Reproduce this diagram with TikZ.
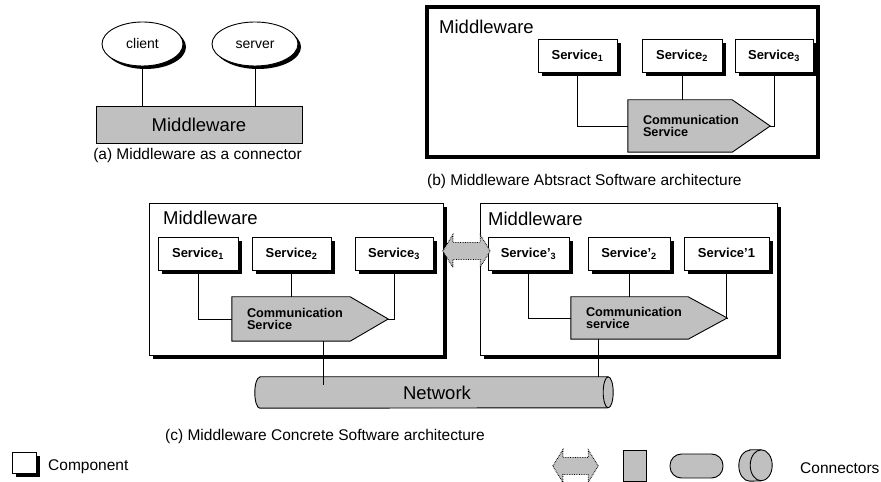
\documentclass[tikz,border=0pt]{standalone}
\usepackage{fontspec}
\setmainfont{Liberation Sans}
\usetikzlibrary{shapes.geometric,shadows,calc}
\definecolor{fg}{RGB}{192,192,192}
\newcommand\dblarrowshape[1]{%
  \draw[dotline] (#1.west) -- ($(#1.north west)+(10,0)$) -- ($(#1.west)+(10,8.5)$)
    -- ($(#1.east)+(-10,8.5)$) -- ($(#1.north east)+(-10,0)$) -- (#1.east)
    -- ($(#1.south east)+(-10,0)$) -- ($(#1.east)+(-10,-8.5)$) -- ($(#1.west)+(10,-8.5)$)
    -- ($(#1.south west)+(10,0)$) -- cycle;}
% #1 node name, #2 x radius of the end ellipses, #3 y radius
\newcommand\cylshape[3]{%
  \draw[cylline] ($(#1.north west)+(#2,0)$) -- ($(#1.north east)+(-#2,0)$)
    arc[start angle=90,end angle=-90,x radius=#2,y radius=#3]
    -- ($(#1.south west)+(#2,0)$)
    arc[start angle=270,end angle=90,x radius=#2,y radius=#3] -- cycle;
  \draw[cylline,fill=none] ($(#1.north east)+(-#2,0)$)
    arc[start angle=90,end angle=270,x radius=#2,y radius=#3];}
\begin{document}
\begin{tikzpicture}[x=1pt,y=1pt,
  shd/.style={drop shadow={shadow xshift=4pt,shadow yshift=-4pt,fill=black,opacity=1}},
  svc/.style={draw,fill=white,line width=0.9pt,shd,minimum height=33pt,inner sep=0pt,
    text height=9.5pt,text depth=2pt,font=\fontsize{13}{14}\selectfont\bfseries},
  mwbox/.style={draw,fill=white,line width=0.9pt,shd,inner sep=0pt,minimum width=294pt,minimum height=152pt},
  commbody/.style={inner sep=0pt},
  commshape/.style={draw,fill=fg,line width=0.9pt,line join=miter},
  commtext/.style={inner sep=0pt,align=left,text width=#1,font=\fontsize{12.7}{12.5}\selectfont\bfseries},
  conn/.style={line width=0.8pt},
  elli/.style={ellipse,draw,fill=white,line width=0.9pt,minimum height=44pt,inner sep=0pt,
    drop shadow={shadow xshift=3pt,shadow yshift=-3pt,fill=black,opacity=1},
    text height=10pt,text depth=0pt,font=\fontsize{14}{16}\selectfont},
  arrowbody/.style={inner sep=0pt,minimum height=32pt},
  dotline/.style={fill=fg,line width=0.9pt,dash pattern=on 0.7pt off 1pt,line join=miter},
  cylbody/.style={inner sep=0pt},
  cylline/.style={draw,fill=fg,line width=0.9pt},
  captxt/.style={font=\fontsize{15.5}{17}\selectfont,inner sep=0pt},
  mwlabel/.style={font=\fontsize{18.5}{20}\selectfont,inner sep=0pt},
]
\useasboundingbox (0,0) rectangle (881,482);

% ---------------- (a)
\node[elli,minimum width=81pt] (client) at (142.5,438) {client};
\node[elli,minimum width=86pt] (server) at (255,438) {server};
\node[draw,fill=fg,line width=0.9pt,minimum width=206pt,minimum height=37pt,inner sep=0pt,
  font=\fontsize{18.5}{20}\selectfont] (mwa) at (199,357.5) {Middleware};
\draw[conn] (client.south) -- (client.south |- mwa.north);
\draw[conn] (server.south) -- (server.south |- mwa.north);
\node[captxt,anchor=base] (capa) at (197.5,322) {(a) Middleware as a connector};

% ---------------- (b)
\node[draw,line width=3.5pt,minimum width=391pt,minimum height=150pt,inner sep=0pt] (mwb) at (622.5,400) {};
\node[mwlabel,anchor=base west] (mwblab) at (439,448) {Middleware};
\node[svc,minimum width=79pt] (bs1) at (577.5,426) {Service\textsubscript{1}};
\node[svc,minimum width=80pt] (bs2) at (682,426) {Service\textsubscript{2}};
\node[svc,minimum width=78pt] (bs3) at (774,426) {Service\textsubscript{3}};
\node[commbody,minimum width=142pt,minimum height=52pt] (bcs) at (699,356) {};
\draw[commshape] (bcs.north west) -- ([xshift=-38pt]bcs.north east) -- (bcs.east) -- ([xshift=-38pt]bcs.south east) -- (bcs.south west) -- cycle;
\node[commtext=112pt] (bcst) at (bcs.center) {Communication\\Service};
\draw[conn] (bs1.south) |- (bcs.west);
\draw[conn] (bs2.south) -- (bs2.south |- bcs.north);
\draw[conn] (bs3.south) |- (bcs.east);
\node[captxt,anchor=base west] (capb) at (427,296) {(b) Middleware Abtsract Software architecture};

% ---------------- (c) left
\node[mwbox] (mwl) at (296,203) {};
\node[mwlabel,anchor=base west] (mwllab) at (163,257) {Middleware};
\node[svc,minimum width=80pt] (ls1) at (198,228.5) {Service\textsubscript{1}};
\node[svc,minimum width=79pt] (ls2) at (291.5,228.5) {Service\textsubscript{2}};
\node[svc,minimum width=78pt] (ls3) at (394,228.5) {Service\textsubscript{3}};
\node[commbody,minimum width=156pt,minimum height=44pt] (lcs) at (310,163) {};
\draw[commshape] (lcs.north west) -- ([xshift=-38pt]lcs.north east) -- (lcs.east) -- ([xshift=-38pt]lcs.south east) -- (lcs.south west) -- cycle;
\node[commtext=126pt] (lcst) at (lcs.center) {Communication\\Service};
\draw[conn] (ls1.south) |- (lcs.west);
\draw[conn] (ls2.south) -- (ls2.south |- lcs.north);
\draw[conn] (ls3.south) |- (lcs.east);

% ---------------- (c) right
\node[mwbox,minimum width=297pt] (mwr) at (628.5,203) {};
\node[mwlabel,anchor=base west] (mwrlab) at (488,256) {Middleware};
\node[svc,minimum width=81pt] (rs3) at (528.5,228) {Service'\textsubscript{3}};
\node[svc,minimum width=82pt] (rs2) at (629,228) {Service'\textsubscript{2}};
\node[svc,minimum width=85pt] (rs1) at (726.5,228) {Service'1};
\node[commbody,minimum width=156pt,minimum height=42pt] (rcs) at (649,164) {};
\draw[commshape] (rcs.north west) -- ([xshift=-39pt]rcs.north east) -- (rcs.east) -- ([xshift=-39pt]rcs.south east) -- (rcs.south west) -- cycle;
\node[commtext=126pt] (rcst) at (rcs.center) {Communication\\service};
\draw[conn] (rs3.south) |- (rcs.west);
\draw[conn] (rs2.south) -- (rs2.south |- rcs.north);
\draw[conn] (rs1.south) |- (rcs.east);

% dotted double arrow between the two middlewares
\node[arrowbody,minimum width=47pt] (link) at (466.5,231) {};
\dblarrowshape{link}

% network
\node[cylbody,minimum width=358pt,minimum height=31pt] (net) at (434,89.5) {};
\cylshape{net}{5}{15.5}
\node[mwlabel] (netlab) at ([xshift=3pt]net.center) {Network};
\coordinate (lnetc) at ($([xshift=13pt]lcs.south |- net.north)+(0,-8)$);
\draw[conn] ([xshift=13pt]lcs.south) -- (lnetc);
\draw[conn] ([xshift=-51pt]rcs.south) -- ([xshift=-51pt]rcs.south |- net.north);
\node[captxt,anchor=base west] (capc) at (165,41) {(c) Middleware Concrete Software architecture};

% ---------------- legend
\node[draw,fill=white,line width=0.9pt,shd,minimum width=24pt,minimum height=21pt,inner sep=0pt] (legcomp) at (24,19.5) {};
\node[captxt,anchor=base west] (legcomplab) at (48,12) {Component};
\node[arrowbody,minimum width=45pt] (legarrow) at (575.5,16) {};
\dblarrowshape{legarrow}
\node[draw,fill=fg,line width=0.9pt,minimum width=23pt,minimum height=31pt,inner sep=0pt] (legrect) at (634.5,16.5) {};
\node[draw,fill=fg,line width=0.9pt,rounded corners=11.5pt,minimum width=53pt,minimum height=24pt,inner sep=0pt] (legpill) at (696.5,16) {};
\node[cylbody,minimum width=33pt,minimum height=31pt] (legcyl) at (755.5,16.5) {};
\cylshape{legcyl}{11}{15.5}
\node[captxt,anchor=base west] (legconnlab) at (800,9) {Connectors};
\end{tikzpicture}
\end{document}
